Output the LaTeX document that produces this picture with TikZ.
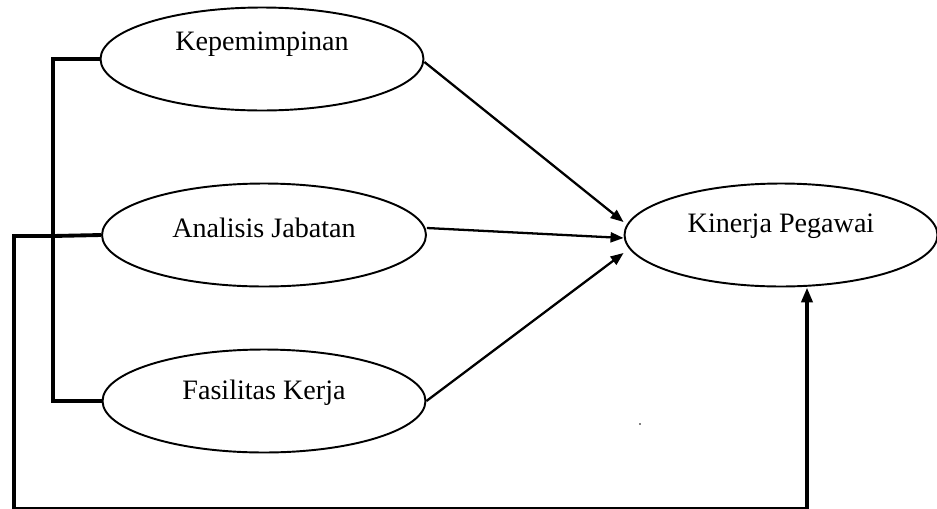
\documentclass[tikz,border=0pt]{standalone}
\usepackage{fontspec}
\setmainfont{Liberation Serif}
\usetikzlibrary{shapes.geometric,arrows.meta}
\tikzset{
  variable/.style={draw,ellipse,line width=1.1pt,minimum width=#1,minimum height=2.06cm,inner sep=0pt},
  varlabel/.style={font=\fontsize{16}{19}\selectfont},
  path arrow/.style={line width=1.3pt,-{Triangle[length=0.26cm,width=0.2cm]}},
  bracket/.style={line width=2.2pt,line join=miter}
}
\begin{document}
\begin{tikzpicture}[x=0.02cm,y=-0.02cm]
  \useasboundingbox (0,0) rectangle (937,508);
  % Variables
  \node[variable=6.46cm,label={[varlabel,yshift=0.29cm]center:Kepemimpinan}] (kep) at (262,59) {};
  \node[variable=6.48cm,label={[varlabel,yshift=0.14cm]center:Analisis Jabatan}] (ana) at (264,235) {};
  \node[variable=6.46cm,label={[varlabel,yshift=0.16cm]center:Fasilitas Kerja}] (fas) at (264,401) {};
  \node[variable=6.26cm,label={[varlabel,yshift=0.18cm]center:Kinerja Pegawai}] (kin) at (781,235) {};
  % Partial paths
  \draw[path arrow] ([yshift=-0.06cm]kep.east) -- ([yshift=0.26cm]kin.west);
  \draw[path arrow] ([yshift=0.14cm]ana.east) -- ([yshift=-0.06cm]kin.west);
  \draw[path arrow] (fas.east) -- ([yshift=-0.36cm]kin.west);
  % Left bracket
  \coordinate (spine) at (53,236);
  \coordinate (corner) at (14,509);
  \draw[bracket] (kep.west) -| (spine) |- (fas.west);
  \draw[bracket] (ana.west) -- (spine);
  % Simultaneous path
  \draw[bracket] (spine) -| (corner) -- (807,509) coordinate (turn);
  \draw[bracket,-{Triangle[length=0.3cm,width=0.22cm]}] (turn) -- (turn |- kin.south);
  % Stray dot
  \fill (640,424) circle (0.8);
\end{tikzpicture}
\end{document}
